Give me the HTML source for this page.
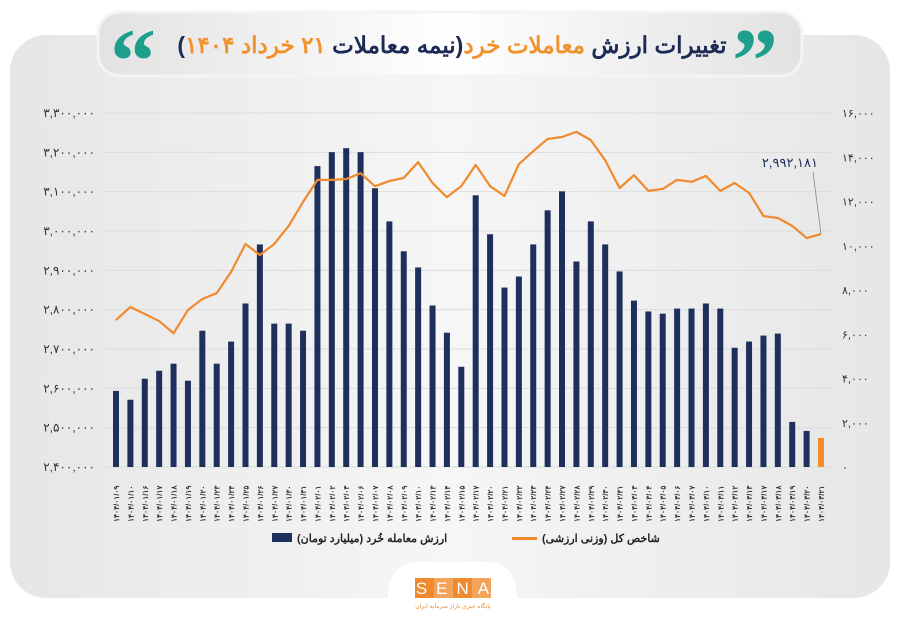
<!DOCTYPE html>
<html><head><meta charset="utf-8">
<style>
html,body{margin:0;padding:0;background:#fff;width:900px;height:623px;overflow:hidden;font-family:"Liberation Sans","Noto Sans CJK SC",sans-serif}
</style></head>
<body>
<svg id="chart" width="900" height="623" xmlns="http://www.w3.org/2000/svg">
<defs>
<linearGradient id="pg" x1="0" y1="0" x2="1" y2="0"><stop offset="0" stop-color="#e6e6e6"/><stop offset="0.5" stop-color="#f6f6f6"/><stop offset="1" stop-color="#e6e6e6"/></linearGradient>
<linearGradient id="tg" x1="0" y1="0" x2="1" y2="0"><stop offset="0" stop-color="#e2e2e2"/><stop offset="0.5" stop-color="#ffffff"/><stop offset="1" stop-color="#e2e2e2"/></linearGradient>
</defs>
<rect x="10" y="35" width="880" height="563" rx="36" fill="url(#pg)"/>
<rect x="98" y="12" width="704" height="64" rx="22" fill="url(#tg)" stroke="#f4f4f4" stroke-width="3"/>
<text x="452" y="53" text-anchor="middle" font-size="23" font-weight="bold" font-family="'Liberation Sans','Noto Sans CJK SC',sans-serif" direction="rtl"><tspan fill="#1c2a55">تغییرات ارزش </tspan><tspan fill="#f0922e">معاملات خرد</tspan><tspan fill="#1c2a55">(نیمه معاملات </tspan><tspan fill="#f0922e">۲۱ خرداد ۱۴۰۴</tspan><tspan fill="#1c2a55">)</tspan></text>
<text x="732" y="92" font-size="92" font-weight="bold" fill="#1e9e8c" font-family="'Liberation Serif',serif">”</text>
<text x="110" y="92" font-size="92" font-weight="bold" fill="#1e9e8c" font-family="'Liberation Serif',serif">“</text>
<g id="grid"></g><g id="bars"></g><g id="line"></g><g id="axes"></g>
<g>
<rect x="272" y="533" width="20" height="9" fill="#1f2f5c"/>
<text x="297" y="542" font-size="11" font-weight="bold" fill="#222" font-family="'Liberation Sans','Noto Sans CJK SC',sans-serif">ارزش معامله خُرد (میلیارد تومان)</text>
<rect x="512" y="537" width="25" height="3" fill="#ef8a2e"/>
<text x="542" y="542" font-size="11" font-weight="bold" fill="#222" font-family="'Liberation Sans','Noto Sans CJK SC',sans-serif">شاخص کل (وزنی ارزشی)</text>
</g>
<path d="M388 598 Q388 562 420 562 L485 562 Q517 562 517 598 Z" fill="#fff"/>
<g>
<rect x="415" y="578" width="19" height="20" fill="#ef8a2e"/><rect x="434" y="578" width="19" height="20" fill="#f4a35a"/><rect x="453" y="578" width="19" height="20" fill="#ef8a2e"/><rect x="472" y="578" width="19" height="20" fill="#f4a35a"/>
<text x="453" y="594" text-anchor="middle" font-size="17" fill="#fff" letter-spacing="9" font-family="'Liberation Sans',sans-serif" dx="4">SENA</text>
<text x="453" y="608" text-anchor="middle" font-size="6" fill="#ef8a2e" font-family="'Liberation Sans','Noto Sans CJK SC',sans-serif">پایگاه خبری بازار سرمایه ایران</text>
</g>
</svg>
<script>
const dates=["01/09","01/10","01/16","01/17","01/18","01/19","01/20","01/23","01/24","01/25","01/26","01/27","01/30","01/31","02/01","02/02","02/03","02/06","02/07","02/08","02/09","02/10","02/13","02/14","02/15","02/17","02/20","02/21","02/22","02/23","02/24","02/27","02/28","02/29","02/30","02/31","03/03","03/04","03/05","03/06","03/07","03/10","03/11","03/12","03/13","03/17","03/18","03/19","03/20","03/21"];
const barValues=[3440,3040,3990,4350,4670,3900,6160,4670,5670,7390,10060,6480,6480,6160,13600,14230,14410,14230,12600,11100,9750,9020,7300,6070,4530,12280,10520,8110,8610,10060,11600,12460,9290,11100,10060,8840,7520,7030,6930,7160,7160,7390,7160,5390,5670,5940,6030,2040,1630,1310];
const indexValues=[2773700,2806800,2789000,2771000,2740000,2799000,2827000,2842000,2896000,2967000,2939000,2967000,3013000,3074000,3130000,3130000,3132000,3147000,3114000,3127000,3135000,3175000,3122000,3086000,3114000,3168000,3114000,3089000,3170000,3203000,3234000,3239000,3252000,3231000,3180000,3109000,3142000,3102000,3107000,3130000,3125000,3140000,3102000,3122000,3097000,3038000,3033000,3013000,2982000,2992181];
const leftTicks=[2400000,2500000,2600000,2700000,2800000,2900000,3000000,3100000,3200000,3300000];
const rightTicks=[0,2000,4000,6000,8000,10000,12000,14000,16000];
const NS="http://www.w3.org/2000/svg";
const fa=s=>String(s).replace(/\d/g,d=>"۰۱۲۳۴۵۶۷۸۹"[d]);
const fmt=v=>fa(Math.round(v).toLocaleString("en-US"));
const x0=116,x1=821,yTop=113,yBot=467;
const xs=i=>x0+(x1-x0)*i/(dates.length-1);
const yL=v=>yBot-(v-2400000)/900000*(yBot-yTop);
const yR=v=>yBot-v/16000*(yBot-yTop);
function mk(tag,attrs,parent){const e=document.createElementNS(NS,tag);for(const k in attrs)e.setAttribute(k,attrs[k]);parent.appendChild(e);return e;}
const grid=document.getElementById('grid'),bars=document.getElementById('bars'),line=document.getElementById('line'),axes=document.getElementById('axes');
leftTicks.forEach(v=>{
 const g=mk('line',{x1:105,x2:832,y1:yL(v),y2:yL(v),stroke:'#dcdcdc','stroke-width':1},grid);
 
 
 const t=mk('text',{x:95,y:yL(v)+4,'text-anchor':'end','font-size':12,fill:'#333'},axes);
 
 
 t.textContent=fmt(v);
});
rightTicks.forEach(v=>{
 const t=mk('text',{x:842,y:yR(v)+4,'text-anchor':'start','font-size':11,fill:'#333'},axes);
 
 
 t.textContent=fmt(v);
});
const bw=6;
barValues.forEach((v,i)=>{
 const r=mk('rect',{x:xs(i)-bw/2,y:yR(v),width:bw,height:yBot-yR(v),fill:i===barValues.length-1?'#f28c28':'#1f2f5c'},bars);
 
 
});
const pts=indexValues.map((v,i)=>xs(i)+','+yL(v)).join(' ');
const pl=mk('polyline',{points:pts,fill:'none',stroke:'#ef8a2e','stroke-width':2.2,'stroke-linejoin':'round'},line);


dates.forEach((d,i)=>{
 const t=mk('text',{transform:`translate(${xs(i)+3},522) rotate(-90)`,'font-size':7.5,fill:'#333','font-weight':'bold'},axes);
 
 
 t.textContent=fa('1404/'+d);
});
const li=indexValues.length-1,lx=xs(li),ly=yL(indexValues[li]);
const ld=mk('line',{x1:lx,y1:ly,x2:lx-8,y2:172,stroke:'#888','stroke-width':0.8},line);


const lt=mk('text',{x:lx-3,y:167,'text-anchor':'end','font-size':13,fill:'#1f2f5c'},line);


lt.textContent=fmt(indexValues[li]);
</script>
</body></html>
